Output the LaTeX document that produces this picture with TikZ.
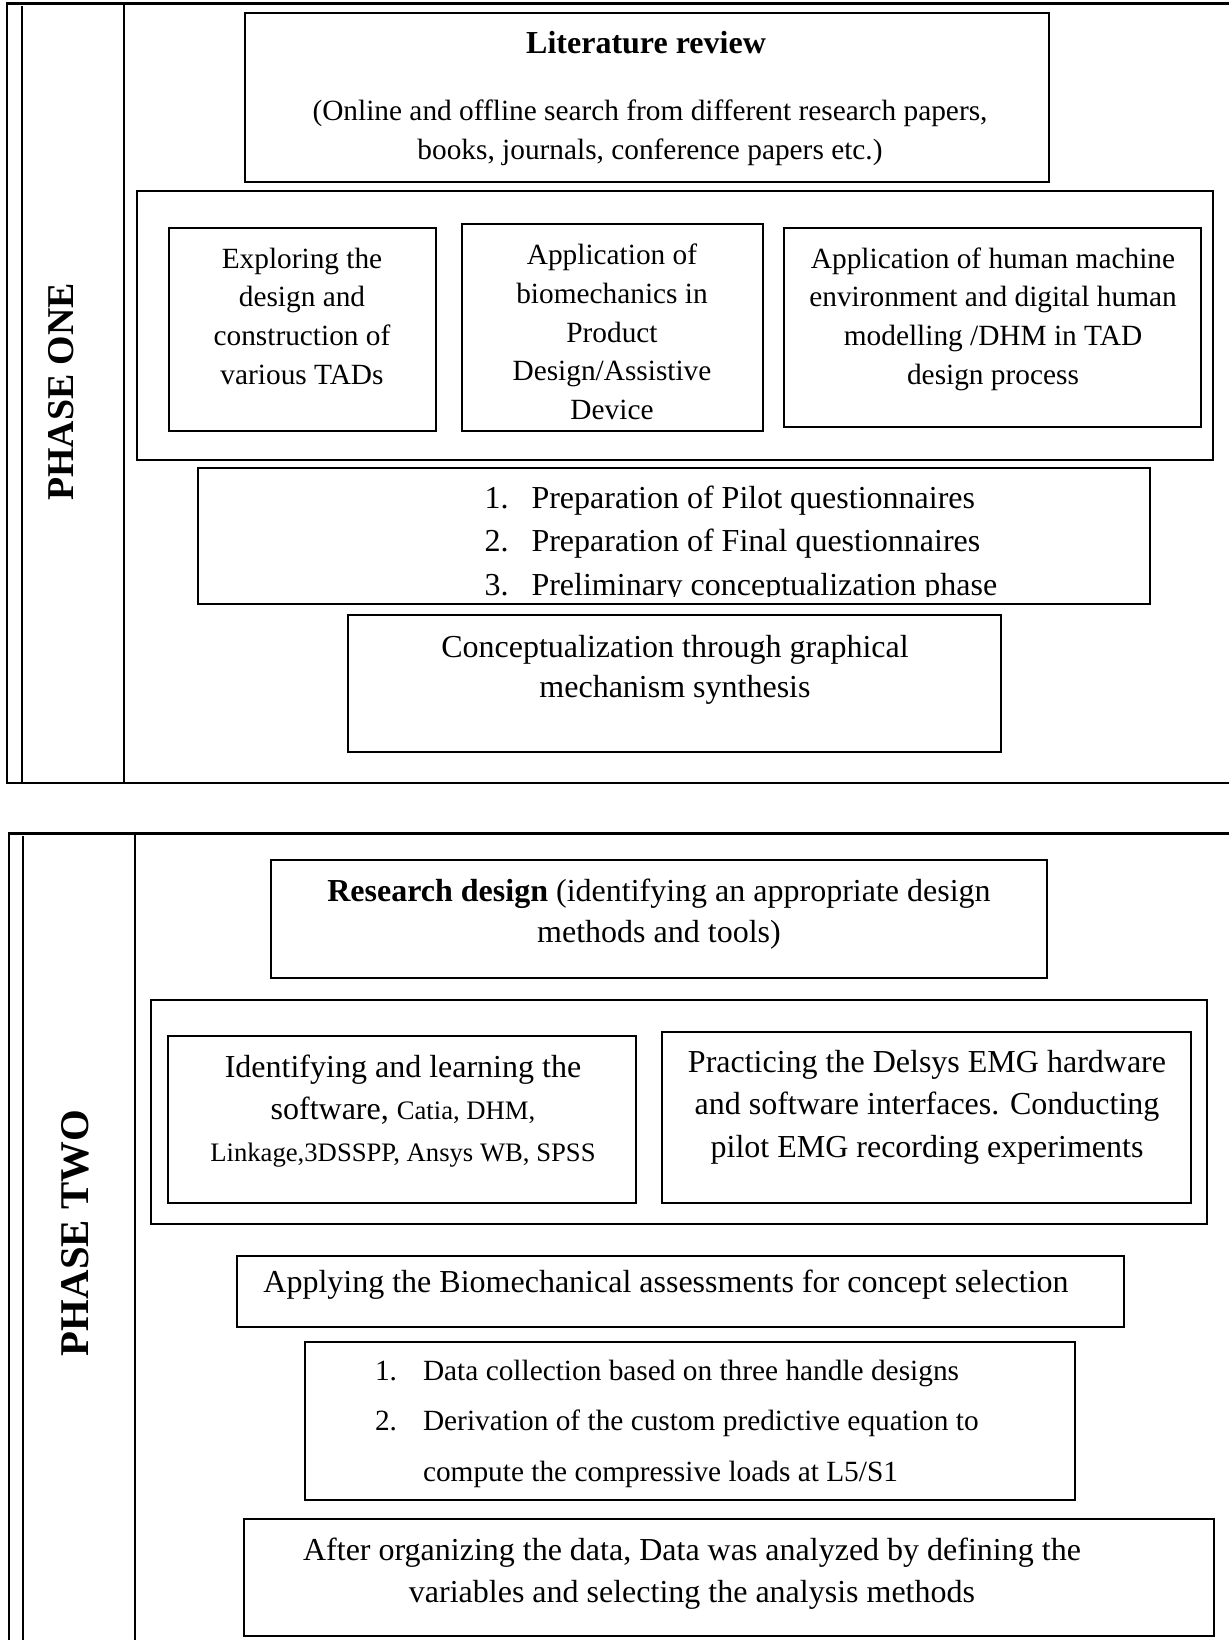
\documentclass[tikz,border=0pt]{standalone}
\usepackage{fontspec}
\setmainfont{Liberation Serif}
\usetikzlibrary{fit}
\begin{document}
\begin{tikzpicture}[x=0.375pt,y=-0.375pt,
  frame/.style={line width=0.8pt},
  box/.style={draw,line width=0.8pt,inner sep=0pt},
  txt/.style={align=center,inner sep=0pt,font=\fontsize{11}{14.5}\selectfont},
  big/.style={align=center,inner sep=0pt,font=\fontsize{12}{#1}\selectfont},
  item/.style={anchor=base west,inner sep=0pt},
  phase/.style={rotate=90,inner sep=0pt,font=\bfseries\fontsize{#1}{16}\selectfont}]
\useasboundingbox (0,0) rectangle (1228,1640);

% ---------- phase one frame ----------
\coordinate (p1tl) at (7,3.5);
\coordinate (p1bl) at (7,783);
\draw[frame] (1240,3.5) -- (p1tl) -- (p1bl) -- (1240,783);
\draw[frame] (22,6) -- (22,783);
\draw[frame] (124,3.5) -- (124,783);
\node[phase=14.2] (ph1) at (61,392) {PHASE ONE};

% literature review
\node[box,fit={(245,13) (1049,182)}] (lit) {};
\node[big=14.5] (litT) at (646,43) {\textbf{Literature review}};
\node[txt] (litS) at (650,133) {(Online and offline search from different research papers,\\books, journals, conference papers etc.)};

% group of three studies
\node[box,fit={(137,191) (1213,460)}] (grp1) {};
\node[box,fit={(169,228) (436,431)}] (b1) {};
\node[box,fit={(462,224) (763,431)}] (b2) {};
\node[box,fit={(784,228) (1201,427)}] (b3) {};
\node[txt] (t1) at (302,316) {Exploring the\\design and\\construction of\\various TADs};
\node[txt] (t2) at (612,332) {Application of\\biomechanics in\\Product\\Design/Assistive\\Device};
\node[txt] (t3) at (993,319) {Application of human machine\\environment and digital human\\modelling /DHM in TAD\\design process};

% questionnaire list (last line cut by the box)
\node[box,fit={(198,468) (1150,604)}] (lst1) {};
\begin{scope}
  \clip (198,468) rectangle (1150,596);
  \begin{scope}[every node/.style={item,font=\fontsize{12}{16}\selectfont}]
    \node (n11) at (484,508) {1.};
    \node (i11) at (531,508) {Preparation of Pilot questionnaires};
    \node (n12) at (484,551.7) {2.};
    \node (i12) at (531,551.7) {Preparation of Final questionnaires};
    \node (n13) at (484,595.2) {3.};
    \node (i13) at (531,595.2) {Preliminary conceptualization phase};
  \end{scope}
\end{scope}

% conceptualization
\node[box,fit={(348,615) (1001,752)}] (con) {};
\node[big=15.2] (tcon) at (675,670) {Conceptualization through graphical\\mechanism synthesis};

% ---------- phase two frame ----------
\coordinate (p2tl) at (9,833.5);
\draw[frame] (1240,833.5) -- (p2tl) -- (9,1650);
\draw[frame] (23,836) -- (23,1650);
\draw[frame] (135,833.5) -- (135,1650);
\node[phase=15.3] (ph2) at (75,1233) {PHASE TWO};

% research design
\node[box,fit={(271,860) (1047,978)}] (rd) {};
\node[big=15.4] (trd) at (659,914) {\textbf{Research design} (identifying an appropriate design\\methods and tools)};

% tools and EMG practice
\node[box,fit={(151,1000) (1207,1224)}] (grp2) {};
\node[box,fit={(168,1036) (636,1203)}] (bA) {};
\node[box,fit={(662,1032) (1191,1203)}] (bB) {};
\node[big=15.7] (tA) at (403,1111) {Identifying and learning the\\software, {\fontsize{10}{15.7}\selectfont Catia, DHM,}\\{\fontsize{10}{15.7}\selectfont Linkage,3DSSPP, Ansys WB, SPSS}};
\node[big=15.9] (tB) at (927,1107) {Practicing the Delsys EMG hardware\\and software interfaces. Conducting\\pilot EMG recording experiments};

% biomechanical assessment
\node[box,fit={(237,1256) (1124,1327)}] (bio) {};
\node[big=15] (tbio) at (666,1285) {Applying the Biomechanical assessments for concept selection};

% data list
\node[box,fit={(305,1342) (1075,1500)}] (lst2) {};
\begin{scope}[every node/.style={item,font=\fontsize{11}{14}\selectfont}]
  \node (n21) at (374.5,1380) {1.};
  \node (i21) at (422.5,1380) {Data collection based on three handle designs};
  \node (n22) at (374.5,1430) {2.};
  \node (i22) at (422.5,1430) {Derivation of the custom predictive equation to};
  \node (i23) at (422.5,1481) {compute the compressive loads at L5/S1};
\end{scope}

% analysis
\node[box,fit={(244,1519) (1214,1636)}] (ana) {};
\node[big=15.75] (tana) at (692,1574) {After organizing the data, Data was analyzed by defining the\\variables and selecting the analysis methods};
\end{tikzpicture}
\end{document}
